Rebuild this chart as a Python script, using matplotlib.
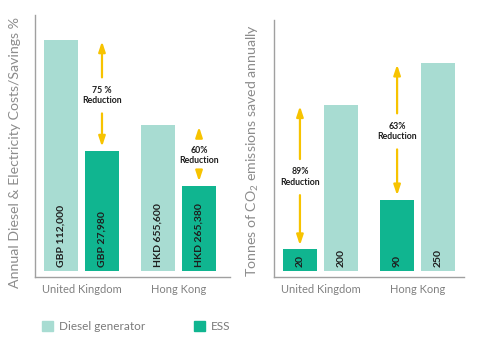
import matplotlib
matplotlib.use('Agg')
from matplotlib import pyplot as plt

plt.rcParams['font.family'] = ['Lato', 'DejaVu Sans']
plt.rcParams['mathtext.fontset'] = 'custom'
plt.rcParams['mathtext.rm'] = 'Lato'

# Data
countries = ['United Kingdom', 'Hong Kong']
series = ['Diesel generator', 'ESS']

# left panel: bar heights (relative %), and printed costs
cost_diesel = [100, 63]
cost_ess = [52, 37]
cost_diesel_txt = ['GBP 112,000', 'HKD 655,600']
cost_ess_txt = ['GBP 27,980', 'HKD 265,380']
cost_reduction = ['75 %\nReduction', '60%\nReduction']

# right panel: tonnes of CO2
co2_ess = [26, 86]
co2_diesel = [200, 250]
co2_ess_txt = ['20', '90']
co2_diesel_txt = ['200', '250']
co2_reduction = ['89%\nReduction', '63%\nReduction']

c_diesel = '#a8dcd2'
c_ess = '#10b590'
c_arrow = '#f7c300'
c_grey = '#8c8c8c'
c_dark = '#1e1e1e'

fig = plt.figure(figsize=(4.84, 3.57), dpi=100)
ax1 = fig.add_axes([0.0723, 0.224, 0.403, 0.734])
ax2 = fig.add_axes([0.566, 0.224, 0.393, 0.720])

off = 0.4227
w = 0.35


def style(ax, ylabel, ycoords):
    for s in ['top', 'right']:
        ax.spines[s].set_visible(False)
    for s in ['left', 'bottom']:
        ax.spines[s].set_color('#a0a0a0')
        ax.spines[s].set_linewidth(1)
    ax.set_yticks([])
    ax.set_xticks([0, 1])
    ax.set_xticklabels(countries, fontsize=8, color='#808080')
    ax.tick_params(axis='x', length=0, pad=5)
    ax.set_ylabel(ylabel, fontsize=10.2, color=c_grey)
    ax.yaxis.set_label_coords(*ycoords)


def bar_label(ax, x, txt):
    ax.annotate(txt, xy=(x, 0), xytext=(0, 3), textcoords='offset points',
                rotation=90, ha='center', va='bottom', fontsize=7.5,
                color=c_dark, fontweight='bold')


def reduction(ax, x, top, low, txt):
    mid = (top + low) / 2
    ap = dict(arrowstyle='-|>,head_length=0.6,head_width=0.2', color=c_arrow,
              lw=1.6, shrinkA=4, shrinkB=1, mutation_scale=10)
    ax.annotate(txt, xy=(x, top), xytext=(x, mid), ha='center', va='center',
                fontsize=6.3, fontweight='bold', color=c_dark, arrowprops=ap)
    ap2 = dict(ap, shrinkB=3)
    ax.annotate(txt, xy=(x, low), xytext=(x, mid), ha='center', va='center',
                fontsize=6.3, fontweight='bold', color='none', arrowprops=ap2)


# Left panel
for i in range(2):
    ax1.bar(i - off / 2, cost_diesel[i], w, color=c_diesel)
    ax1.bar(i + off / 2, cost_ess[i], w, color=c_ess)
    bar_label(ax1, i - off / 2, cost_diesel_txt[i])
    bar_label(ax1, i + off / 2, cost_ess_txt[i])
    reduction(ax1, i + off / 2, cost_diesel[i], cost_ess[i], cost_reduction[i])
ax1.set_xlim(-0.479, 1.531)
ax1.set_ylim(-2.6, 110.8)
style(ax1, 'Annual Diesel & Electricity Costs/Savings %', (-0.072, 0.475))

# Right panel
for i in range(2):
    ax2.bar(i - off / 2, co2_ess[i], w, color=c_ess)
    ax2.bar(i + off / 2, co2_diesel[i], w, color=c_diesel)
    bar_label(ax2, i - off / 2, co2_ess_txt[i])
    bar_label(ax2, i + off / 2, co2_diesel_txt[i])
    reduction(ax2, i - off / 2, co2_diesel[i], co2_ess[i], co2_reduction[i])
ax2.set_xlim(-0.479, 1.479)
ax2.set_ylim(-7.2, 302)
style(ax2, r'Tonnes of CO$_\mathregular{2}$ emissions saved annually', (-0.068, 0.494))

# Legend
handles = [plt.Rectangle((0, 0), 1, 1, color=c_diesel),
           plt.Rectangle((0, 0), 1, 1, color=c_ess)]
leg = fig.legend(handles, series, loc='center left', bbox_to_anchor=(0.0868, 0.0854),
                 ncol=2, frameon=False, fontsize=8.5, borderpad=0, borderaxespad=0,
                 handlelength=0.93, handleheight=0.93, handletextpad=0.5,
                 columnspacing=4.1)
for t in leg.get_texts():
    t.set_color('#7a7a7a')

fig.savefig('out.png', dpi=100)
